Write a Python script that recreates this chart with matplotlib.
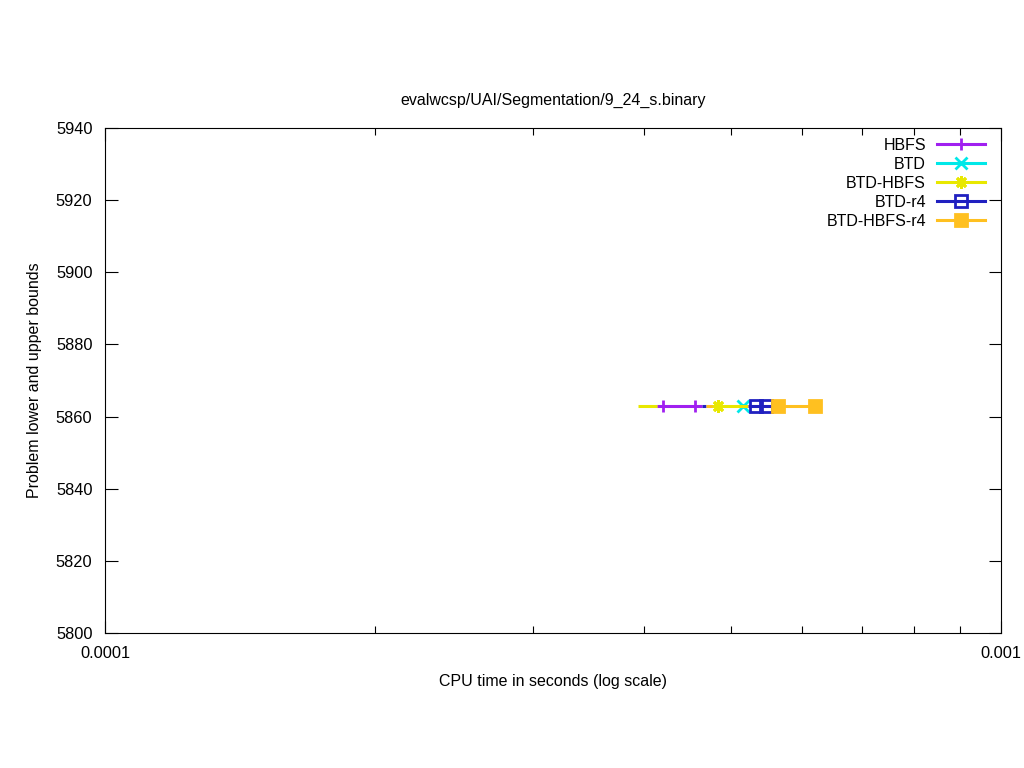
import numpy as np
import matplotlib
matplotlib.use("Agg")
import matplotlib.pyplot as plt
from matplotlib.lines import Line2D
from matplotlib.ticker import FixedLocator, FixedFormatter, NullFormatter

plt.rcParams['font.family'] = ['Liberation Sans', 'DejaVu Sans']

title = "evalwcsp/UAI/Segmentation/9_24_s.binary"
bound = 5863

series_names = ["HBFS", "BTD", "BTD-HBFS", "BTD-r4", "BTD-HBFS-r4"]
# line pieces (nan separates pieces) and marker positions, CPU time in seconds
hbfs_line = [4.128e-4, 4.634e-4]
hbfs_marks = [4.199e-4, 4.558e-4]
btd_line = [5.12e-4, 5.19e-4]
btd_marks = [5.154e-4]
btdhbfs_line = [3.935e-4, 4.128e-4, np.nan, 4.755e-4, 5.221e-4]
btdhbfs_marks = [4.836e-4]
btdr4_line = [4.634e-4, 4.686e-4, np.nan, 5.221e-4, 5.548e-4]
btdr4_marks = [5.325e-4, 5.464e-4]
btdhbfsr4_line = [4.686e-4, 4.755e-4, np.nan, 5.548e-4, 6.205e-4]
btdhbfsr4_marks = [5.643e-4, 6.205e-4]

xticks = [1e-4, 1e-3]
xtick_labels = ["0.0001", "0.001"]
yticks = [5800, 5820, 5840, 5860, 5880, 5900, 5920, 5940]

colors = ["#a020f0", "#00e8e8", "#e8e800", "#2020c0", "#ffc020"]
markers = ["+", "x", (8, 2, 0), "s", "s"]
fills = ["full", "full", "full", "none", "full"]
lines = [hbfs_line, btd_line, btdhbfs_line, btdr4_line, btdhbfsr4_line]
marks = [hbfs_marks, btd_marks, btdhbfs_marks, btdr4_marks, btdhbfsr4_marks]

fig = plt.figure(figsize=(10.24, 7.68), dpi=100)
ax = fig.add_axes([105 / 1024, 1 - 633 / 768, 896 / 1024, 505 / 768])

handles = []
for name, c, m, fs, lx, mx in zip(series_names, colors, markers, fills, lines, marks):
    ax.plot(lx, [bound] * len(lx), color=c, lw=2.2, solid_capstyle='butt')
    ax.plot(mx, [bound] * len(mx), linestyle='none', marker=m, color=c,
            markersize=9, markeredgewidth=2, fillstyle=fs)
    handles.append(Line2D([], [], color=c, lw=2.2, marker=m, markersize=9,
                          markeredgewidth=2, fillstyle=fs, label=name))

ax.set_xscale('log')
ax.set_xlim(1e-4, 1e-3)
ax.set_ylim(5800, 5940)
ax.xaxis.set_major_locator(FixedLocator(xticks))
ax.xaxis.set_major_formatter(FixedFormatter(xtick_labels))
ax.xaxis.set_minor_locator(FixedLocator([k * 1e-4 for k in range(2, 10)]))
ax.xaxis.set_minor_formatter(NullFormatter())
ax.set_yticks(yticks)
ax.tick_params(which='both', direction='in', top=True, right=True, labelsize=11.8)
ax.tick_params(which='major', length=9, width=0.8, pad=9)
ax.tick_params(which='minor', length=5, width=0.8)
for s in ax.spines.values():
    s.set_linewidth(0.8)

ax.set_title(title, fontsize=11.5, pad=17)
ax.set_xlabel("CPU time in seconds (log scale)", fontsize=11.5, labelpad=10)
ax.set_ylabel("Problem lower and upper bounds", fontsize=11.5, labelpad=10)

leg = ax.legend(handles=handles, loc='upper right', frameon=False,
                markerfirst=False, fontsize=11.5, handlelength=3.0,
                labelspacing=0.25, borderpad=0, borderaxespad=0,
                handletextpad=0.7,
                bbox_to_anchor=(985 / 1024, 1 - 138 / 768),
                bbox_transform=fig.transFigure)

fig.savefig("out.png", dpi=100)
